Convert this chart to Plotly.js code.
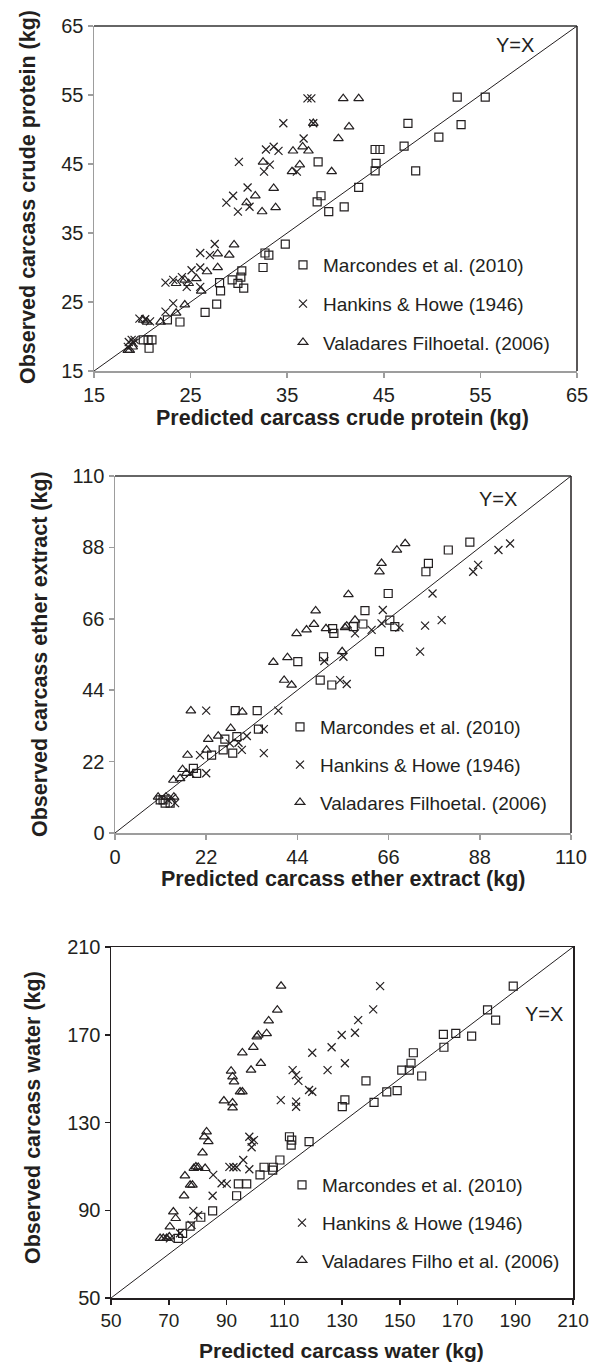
<!DOCTYPE html>
<html>
<head>
<meta charset="utf-8">
<script src="https://cdn.plot.ly/plotly-3.0.1.min.js"></script>
<style>html,body{margin:0;padding:0;background:#fff;}#chart{width:604px;height:1368px;}</style>
</head>
<body>
<div id="chart"></div>
<script>
// ---------- Panel 1: crude protein ----------
var p1_range = [15, 65];
var p1_ticks = [15, 25, 35, 45, 55, 65];
var p1_mar_x = [38.2,38.5,38.1,39.3,40.9,32.7,33.1,34.8,32.5,30.3,30.2,29.9,30.5,29.3,28.0,28.1,26.5,27.7,23.9,22.6,20.6,21.0,20.7,20.1,52.6,55.5,47.5,53.0,50.7,44.1,44.6,47.1,44.2,44.1,48.3,42.4];
var p1_mar_y = [45.3,40.4,39.5,38.1,38.8,32.1,31.8,33.4,30.0,29.5,28.6,27.7,27.0,28.2,27.8,26.6,23.5,24.7,22.1,22.4,19.5,19.5,18.3,19.5,54.7,54.7,50.9,50.7,48.9,47.1,47.1,47.6,45.1,44.0,44.0,41.6];
var p1_han_x = [37.1,37.5,34.6,37.7,36.7,32.8,33.6,34.1,30.0,33.2,32.6,36.0,30.9,28.7,29.4,29.9,31.1,27.5,26.0,27.0,25.1,26.0,22.4,23.2,24.1,24.6,26.0,23.2,22.4,19.7,20.3,20.8,18.6,18.9,19.1,18.5,19.2];
var p1_han_y = [54.5,54.5,50.9,50.9,48.7,47.1,47.5,46.9,45.3,44.9,43.9,43.9,41.6,39.4,40.4,38.1,38.8,33.4,32.1,31.8,29.6,30.0,27.8,28.2,28.6,27.2,27.2,24.8,23.6,22.6,22.5,22.2,19.2,19.5,19.1,18.5,19.5];
var p1_val_x = [40.8,42.4,37.7,41.4,40.3,35.6,36.6,37.2,32.5,35.5,36.3,39.6,33.6,30.8,31.7,32.4,33.8,27.8,29.5,29.0,26.7,27.8,23.5,24.4,24.8,25.6,26.1,24.4,23.5,21.9,20.1,20.5,18.7,19.0,18.5];
var p1_val_y = [54.5,54.5,50.9,50.4,48.7,46.9,47.5,46.9,45.3,43.9,44.9,43.9,41.5,39.4,40.4,38.1,38.7,32.0,33.3,31.8,29.4,30.0,27.7,28.2,27.7,28.4,26.6,24.6,23.4,22.1,22.4,22.1,18.0,18.5,18.0];

// ---------- Panel 2: ether extract ----------
var p2_range = [0, 110];
var p2_ticks = [0, 22, 44, 66, 88, 110];
var p2_mar_x = [52.5,52.8,44.1,50.3,49.5,52.3,29.0,34.3,34.6,26.5,29.4,28.4,23.3,26.1,18.9,19.7,10.9,11.6,13.3,12.1,80.4,85.6,75.6,75.0,65.9,60.3,59.8,57.5,66.3,67.5,63.8];
var p2_mar_y = [63.0,61.5,52.8,54.3,47.1,45.6,37.7,37.7,32.0,28.9,29.7,24.6,24.0,25.6,19.9,18.4,10.2,10.2,9.2,9.2,87.2,89.6,83.1,80.5,73.8,68.5,64.4,63.6,65.6,63.6,55.9];
var p2_han_x = [50.5,55.1,54.3,55.9,22.0,39.4,35.9,35.9,31.8,30.6,27.7,20.5,29.8,22.0,18.1,12.8,13.8,14.5,92.5,95.3,87.6,86.4,76.6,64.6,57.9,61.9,64.3,68.6,74.8,78.8,73.6];
var p2_han_y = [53.0,54.3,47.1,45.9,37.7,37.7,32.0,24.6,29.9,25.6,27.6,24.0,27.8,18.4,18.4,10.2,10.8,9.2,87.2,89.2,82.6,80.5,73.8,68.7,61.5,62.6,64.6,63.3,63.9,65.6,55.9];
var p2_val_x = [56.3,48.4,43.8,46.2,48.0,50.9,55.5,38.2,41.6,54.8,40.8,42.6,18.3,30.7,22.5,24.9,27.9,22.1,17.5,16.3,14.1,15.7,17.2,10.4,12.3,14.2,68.0,70.0,64.3,63.8,55.9,57.9];
var p2_val_y = [73.5,68.5,61.5,62.6,64.3,63.0,63.3,52.6,54.1,55.9,47.1,45.6,37.7,37.3,28.9,29.9,32.3,25.6,24.0,19.6,16.3,16.8,18.4,11.1,11.1,11.1,87.2,89.2,83.1,80.5,63.8,65.6];

// ---------- Panel 3: water ----------
var p3_range = [50, 210];
var p3_xticks = [50, 70, 90, 110, 130, 150, 170, 190, 210];
var p3_yticks = [50, 90, 130, 170, 210];
var p3_mar_x = [131.0,130.1,111.8,112.6,112.4,118.6,108.5,106.2,106.0,103.0,101.6,94.1,97.0,93.5,85.2,81.1,77.4,74.8,73.3,189.3,180.4,183.2,165.1,169.4,174.9,165.3,154.7,153.9,150.7,153.3,157.6,138.3,145.5,149.1,141.1];
var p3_mar_y = [140.3,137.2,123.5,122.0,119.7,121.3,112.9,109.6,108.3,109.6,106.1,102.0,102.0,96.6,89.7,86.8,82.8,79.5,77.2,192.2,181.3,176.7,170.2,170.6,169.4,164.3,161.8,157.0,153.9,153.9,151.2,149.0,144.0,144.5,139.2];
var p3_han_x = [129.9,126.4,119.7,131.0,125.0,112.9,114.1,114.9,118.6,119.7,108.8,114.1,114.1,97.9,98.7,98.7,99.5,95.8,97.9,91.0,92.4,93.5,85.4,88.3,90.1,85.2,78.5,80.2,77.9,73.9,70.4,143.2,140.8,135.6,134.5];
var p3_han_y = [169.9,164.3,161.8,157.0,153.9,153.9,151.6,149.0,144.8,144.0,140.2,139.5,137.2,123.5,121.3,118.7,122.0,112.9,108.7,109.8,109.6,109.6,106.1,102.3,102.0,96.6,89.7,87.8,83.3,79.5,77.2,192.2,181.6,176.7,170.9];
var p3_val_x = [108.9,107.6,104.6,103.9,101.0,100.5,99.3,95.5,101.9,98.5,91.6,92.1,92.6,94.7,95.5,89.1,92.1,92.1,83.1,82.3,83.7,81.7,79.4,80.2,78.7,82.6,75.6,77.4,78.2,75.3,71.6,72.4,70.4,67.0,68.1,69.3,70.2];
var p3_val_y = [192.2,181.3,176.4,170.6,169.9,169.1,164.3,161.8,157.0,153.9,153.5,150.9,148.6,144.0,144.0,139.9,139.0,136.7,125.8,123.5,121.3,116.2,109.8,109.6,109.1,109.1,105.7,101.5,101.5,96.6,89.3,86.3,82.5,77.2,77.2,77.2,77.9];

var names12 = ["Marcondes et al. (2010)", "Hankins & Howe (1946)", "Valadares Filhoetal. (2006)"];
var names3 = ["Marcondes et al. (2010)", "Hankins & Howe (1946)", "Valadares Filho et al. (2006)"];

// ---------- styling / layout helpers ----------
var W = 604, H = 1368;
function fx(p) { return p / W; }
function fy(p) { return 1 - p / H; }
var INK = '#231f20';
var FONT = 'Liberation Sans, Arial, sans-serif';

function mk(symbol, size) {
  return {symbol: symbol, size: size, color: INK, line: {color: INK, width: 1.2}};
}
var SQ = mk('square-open', 8), XX = mk('x-thin-open', 8), TR = mk('triangle-up-open', 8.5);

function panelTraces(ax, leg, names, mx, my, hx, hy, vx, vy, rng) {
  var xa = 'x' + ax, ya = 'y' + ax;
  return [
    {type: 'scatter', mode: 'lines', x: rng, y: rng, xaxis: xa, yaxis: ya,
     line: {color: INK, width: 1}, showlegend: false, hoverinfo: 'skip'},
    {type: 'scatter', mode: 'markers', name: names[0], x: mx, y: my, xaxis: xa, yaxis: ya,
     marker: SQ, legend: leg, legendgroup: leg + 'a'},
    {type: 'scatter', mode: 'markers', name: names[1], x: hx, y: hy, xaxis: xa, yaxis: ya,
     marker: XX, legend: leg, legendgroup: leg + 'b'},
    {type: 'scatter', mode: 'markers', name: names[2], x: vx, y: vy, xaxis: xa, yaxis: ya,
     marker: TR, legend: leg, legendgroup: leg + 'c'}
  ];
}

var data = []
  .concat(panelTraces('', 'legend', names12, p1_mar_x, p1_mar_y, p1_han_x, p1_han_y, p1_val_x, p1_val_y, p1_range))
  .concat(panelTraces('2', 'legend2', names12, p2_mar_x, p2_mar_y, p2_han_x, p2_han_y, p2_val_x, p2_val_y, p2_range))
  .concat(panelTraces('3', 'legend3', names3, p3_mar_x, p3_mar_y, p3_han_x, p3_han_y, p3_val_x, p3_val_y, p3_range));

function axis(domain, rng, ticks, color, anchor, mirror, fsize) {
  return {
    domain: domain, range: rng, tickmode: 'array', tickvals: ticks,
    showgrid: false, zeroline: false, showline: true, linecolor: color, linewidth: 1.5,
    mirror: mirror, ticks: 'outside', ticklen: 5, tickwidth: 1.5, tickcolor: color,
    tickfont: {family: FONT, size: fsize || 20, color: INK}, anchor: anchor, fixedrange: true
  };
}
var GRAY = '#9d9d9d';

function legendAt(left, top, gap) {
  return {x: fx(left), y: fy(top), xanchor: 'left', yanchor: 'top',
    font: {family: FONT, size: 19, color: INK}, bgcolor: 'rgba(0,0,0,0)',
    traceorder: 'grouped', tracegroupgap: gap, itemclick: false, itemdoubleclick: false};
}

function ann(text, px, py, size, bold, angle) {
  return {text: text, xref: 'paper', yref: 'paper', x: fx(px), y: fy(py),
    xanchor: 'center', yanchor: 'middle', showarrow: false, textangle: angle || 0,
    font: {family: FONT, size: size, color: INK, weight: bold ? 'bold' : 'normal'}};
}

function frameShapes(xr, yr) {
  // black top and right border lines of the plot box
  return [
    {type: 'line', xref: xr + ' domain', yref: yr + ' domain', x0: 0, x1: 1, y0: 1, y1: 1, line: {color: '#333', width: 1.5}},
    {type: 'line', xref: xr + ' domain', yref: yr + ' domain', x0: 1, x1: 1, y0: 0, y1: 1, line: {color: INK, width: 1.5}}
  ];
}

var layout = {
  width: W, height: H, margin: {l: 0, r: 0, t: 0, b: 0},
  paper_bgcolor: '#fff', plot_bgcolor: '#fff', showlegend: true,
  font: {family: FONT, color: INK},
  xaxis: axis([fx(94), fx(577)], p1_range, p1_ticks, GRAY, 'y', false),
  yaxis: axis([fy(371), fy(26)], p1_range, p1_ticks, GRAY, 'x', false),
  xaxis2: axis([fx(115), fx(571)], p2_range, p2_ticks, GRAY, 'y2', false),
  yaxis2: axis([fy(833), fy(476)], p2_range, p2_ticks, GRAY, 'x2', false),
  xaxis3: axis([fx(111), fx(573)], p3_range, p3_xticks, INK, 'y3', true, 19),
  yaxis3: axis([fy(1298), fy(947)], p3_range, p3_yticks, INK, 'x3', true, 20),
  legend: legendAt(283, 246, 11),
  legend2: legendAt(280, 708, 10),
  legend3: legendAt(282, 1166, 10),
  shapes: frameShapes('x', 'y').concat(frameShapes('x2', 'y2')),
  annotations: [
    ann('Y=X', 515, 45, 20, false),
    ann('Y=X', 498, 499, 20, false),
    ann('Y=X', 544, 1014, 20, false),
    ann('Predicted carcass crude protein (kg)', 342, 418, 21.5, true),
    ann('Observed carcass crude protein (kg)', 28, 197, 21.5, true, -90),
    ann('Predicted carcass ether extract (kg)', 343, 879, 21.5, true),
    ann('Observed carcass ether extract (kg)', 40, 654, 21.5, true, -90),
    ann('Predicted carcass water (kg)', 341, 1350, 21, true),
    ann('Observed carcass water (kg)', 33, 1118, 21.5, true, -90)
  ]
};

Plotly.newPlot('chart', data, layout, {displayModeBar: false, staticPlot: true});
</script>
</body>
</html>
